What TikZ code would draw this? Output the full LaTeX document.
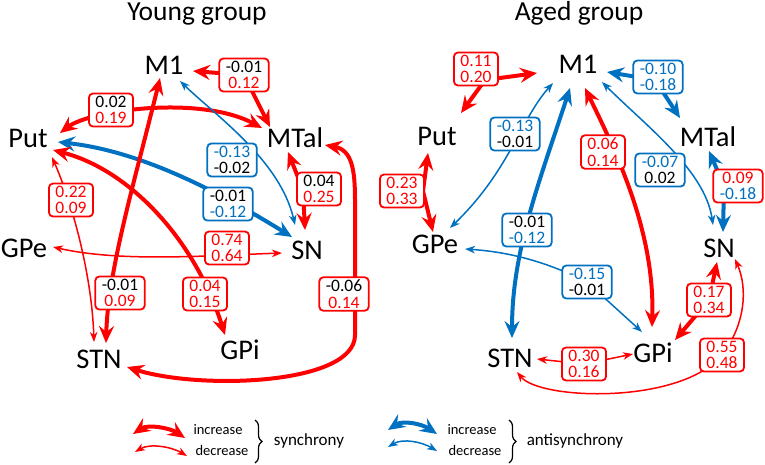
\documentclass[tikz,border=0pt]{standalone}
\usepackage{fontspec}
\setmainfont{Carlito}
\usetikzlibrary{arrows.meta,calc,decorations.pathreplacing}
\definecolor{sred}{RGB}{255,0,0}
\definecolor{sblue}{RGB}{0,112,192}
\newcommand\nK[1]{\textcolor{black}{#1}}
\newcommand\nR[1]{\textcolor{sred}{#1}}
\newcommand\nB[1]{\textcolor{sblue}{#1}}
\pgfdeclarelayer{bg}
\pgfsetlayers{bg,main}
\tikzset{
  region/.style={anchor=base, inner sep=0pt, font=\fontsize{28.5}{30}\selectfont},
  ttl/.style={anchor=base, inner sep=0pt, font=\fontsize{27.5}{30}\selectfont},
  lbox/.style={draw, line width=1.8pt, rounded corners=4pt, fill=white, align=center,
    inner xsep=6.5pt, inner ysep=2.5pt, font=\fontsize{17.5}{16.5}\selectfont},
  rbox/.style={lbox, draw=sred},
  bbox/.style={lbox, draw=sblue},
  thickR/.style={draw=sred, line width=4pt, {Stealth[length=17pt,width=15pt,inset=6pt]}-{Stealth[length=17pt,width=15pt,inset=6pt]}},
  thinR/.style={draw=sred, line width=1.5pt, {Stealth[length=10pt,width=7.5pt,inset=3pt]}-{Stealth[length=10pt,width=7.5pt,inset=3pt]}},
  thickB/.style={thickR, draw=sblue},
  thinB/.style={thinR, draw=sblue},
  legtxt/.style={anchor=base, inner sep=0pt, font=\fontsize{14.5}{16}\selectfont},
  legbig/.style={anchor=base, inner sep=0pt, font=\fontsize{17}{18}\selectfont},
  bracestyle/.style={draw, line width=1.2pt, decorate, decoration={brace, amplitude=7pt}},
}
\begin{document}
\begin{tikzpicture}[x=1pt,y=-1pt]
\useasboundingbox (0,0) rectangle (765,464);
% titles
\node[ttl] (tY) at (197,20) {Young group};
\node[ttl] (tA) at (579,20) {Aged group};
% Young regions
\node[region] (M1) at (164,74) {M1};
\node[region] (Put) at (28,147) {Put};
\node[region] (MTal) at (295,147) {MTal};
\node[region] (GPe) at (24,257) {GPe};
\node[region] (SN) at (307,259) {SN};
\node[region] (STN) at (99,368) {STN};
\node[region] (GPi) at (240,359) {GPi};
% Aged regions
\node[region] (aM1) at (578,73) {M1};
\node[region] (aPut) at (437,145) {Put};
\node[region] (aMTal) at (708,146) {MTal};
\node[region] (aGPe) at (435,253) {GPe};
\node[region] (aSN) at (719,257) {SN};
\node[region] (aSTN) at (510,367) {STN};
\node[region] (aGPi) at (653,362) {GPi};
% Young boxes
\node[rbox] (yb1) at (244,75) {\nK{-0.01}\\\nR{0.12}};
\node[rbox] (yb2) at (111,110) {\nK{0.02}\\\nR{0.19}};
\node[bbox] (yb3) at (232,160) {\nB{-0.13}\\\nK{-0.02}};
\node[bbox] (yb4) at (228,204) {\nK{-0.01}\\\nB{-0.12}};
\node[rbox] (yb5) at (319,189) {\nK{0.04}\\\nR{0.25}};
\node[rbox] (yb6) at (71,200) {\nR{0.22}\\\nR{0.09}};
\node[rbox] (yb7) at (120,293) {\nK{-0.01}\\\nR{0.09}};
\node[rbox] (yb8) at (205,294) {\nR{0.04}\\\nR{0.15}};
\node[rbox] (yb9) at (227,248) {\nR{0.74}\\\nR{0.64}};
\node[rbox] (yb10) at (344,294) {\nK{-0.06}\\\nR{0.14}};
% Aged boxes
\node[rbox] (ab1) at (476,69) {\nR{0.11}\\\nR{0.20}};
\node[bbox] (ab2) at (658,77) {\nB{-0.10}\\\nB{-0.18}};
\node[bbox] (ab3) at (515,134) {\nB{-0.13}\\\nK{-0.01}};
\node[bbox] (ab4) at (527,230) {\nK{-0.01}\\\nB{-0.12}};
\node[rbox] (ab5) at (603,152) {\nR{0.06}\\\nR{0.14}};
\node[bbox] (ab6) at (660,170) {\nB{-0.07}\\\nK{0.02}};
\node[rbox] (ab7) at (738,186) {\nR{0.09}\\\nB{-0.18}};
\node[rbox] (ab8) at (402,191) {\nR{0.23}\\\nR{0.33}};
\node[bbox] (ab9) at (587,282) {\nB{-0.15}\\\nK{-0.01}};
\node[rbox] (ab10) at (709,300) {\nR{0.17}\\\nR{0.34}};
\node[rbox] (ab11) at (584,364) {\nR{0.30}\\\nR{0.16}};
\node[rbox] (ab12) at (722,355) {\nR{0.55}\\\nR{0.48}};
% legend
\node[legtxt] (inc1) at (218,434) {increase};
\node[legtxt] (dec1) at (222,455) {decrease};
\node[legbig] (syn) at (309,445) {synchrony};
\node[legtxt] (inc2) at (472,434) {increase};
\node[legtxt] (dec2) at (475,455) {decrease};
\node[legbig] (anti) at (575,445) {antisynchrony};
\coordinate (l1a) at (133,434); \coordinate (l1b) at (185,438);
\coordinate (l2a) at (135,452); \coordinate (l2b) at (187,456);
\coordinate (l3a) at (388,430); \coordinate (l3b) at (437,434);
\coordinate (l4a) at (388,447); \coordinate (l4b) at (437,451);
\coordinate (br1a) at (255,420); \coordinate (br1b) at (255,463);
\coordinate (br2a) at (509,420); \coordinate (br2b) at (509,463);
\draw[thickR] (l1a) .. controls +(15,-10) and +(-15,-10) .. (l1b);
\draw[thinR] (l2a) .. controls +(15,-9) and +(-15,-9) .. (l2b);
\draw[thickB] (l3a) .. controls +(15,-10) and +(-15,-10) .. (l3b);
\draw[thinB] (l4a) .. controls +(15,-9) and +(-15,-9) .. (l4b);
\draw[bracestyle] (br1a) -- (br1b);
\draw[bracestyle] (br2a) -- (br2b);
\begin{pgfonlayer}{bg}
% Young connectors
\draw[thickR] ($(M1.base)+(29,-3)$) -- (yb1.center) -- ($(MTal.base)+(-25,-20)$);
\draw[thickR] ($(Put.base)+(32,-14)$) .. controls +(30,-23) and +(-62,-33) .. ($(MTal.base)+(-33,-19)$);
\draw[thickB] ($(Put.base)+(30,-5)$) .. controls +(72,8) and +(-92,-57) .. ($(SN.base)+(-15,-22)$);
\draw[thinB] ($(M1.base)+(16,7)$) .. controls +(35,34) and +(-15,-65) .. ($(SN.base)+(-12,-34)$);
\draw[thickR] ($(MTal.base)+(-7,5)$) -- ($(yb5.center)+(-16,1)$) -- ($(SN.base)+(-2,-29)$);
\draw[thinR] ($(Put.base)+(24,10)$) .. controls +(23,53) and +(-2,-62) .. ($(STN.base)+(-5,-26)$);
\draw[thickR] ($(M1.base)+(-4,4)$) .. controls +(-25,102) and +(2,-73) .. ($(STN.base)+(7,-25)$);
\draw[thickR] ($(Put.base)+(25,3)$) .. controls +(77,20) and +(-30,-95) .. ($(GPi.base)+(-15,-24)$);
\draw[thinR] ($(GPe.base)+(29,-10)$) .. controls +(67,15) and +(-82,3) .. ($(SN.base)+(-25,-6)$);
\draw[thickR] ($(MTal.base)+(30,-2)$) .. controls +(27,5) and +(0,-30) .. ($(yb10.center)+(11,-94)$)
   -- ($(yb10.center)+(11,41)$) .. controls +(0,50) and +(73,23) .. ($(STN.base)+(28,-1)$);
% Aged connectors
\draw[thickR] ($(aM1.base)+(-41,0)$) -- ($(ab1.center)+(9,11)$) -- ($(aPut.base)+(24,-32)$);
\draw[thickB] ($(aM1.base)+(29,-1)$) -- ($(ab2.center)+(-3,3)$) -- ($(aMTal.base)+(-28,-28)$);
\draw[thinB] ($(aM1.base)+(-25,10)$) .. controls +(-33,37) and +(60,-58) .. ($(aGPe.base)+(15,-25)$);
\draw[thickB] ($(aM1.base)+(-8,15)$) .. controls +(-30,92) and +(0,-88) .. ($(aSTN.base)+(2,-29)$);
\draw[thickR] ($(aM1.base)+(7,15)$) .. controls +(30,62) and +(3,-97) .. ($(aGPi.base)+(-1,-35)$);
\draw[thinB] ($(aM1.base)+(24,9)$) .. controls +(43,43) and +(-8,-55) .. ($(aSN.base)+(-6,-32)$);
\draw[thickB] ($(aMTal.base)+(1,5)$) -- ($(ab7.center)+(-14,0)$) -- ($(aSN.base)+(4,-25)$);
\draw[thickR] ($(aPut.base)+(-9,8)$) -- ($(ab8.center)+(21,0)$) -- ($(aGPe.base)+(-2,-21)$);
\draw[thinB] ($(aGPe.base)+(30,-4)$) .. controls +(45,3) and +(-40,-20) .. (ab9.center) -- ($(aGPi.base)+(-11,-30)$);
\draw[thickR] ($(aSN.base)+(-2,5)$) -- (ab10.center) -- ($(aGPi.base)+(22,-22)$);
\draw[thinR] ($(aSTN.base)+(27,-8)$) -- (ab11.center) -- ($(aGPi.base)+(-20,-8)$);
\draw[thinR] ($(aSTN.base)+(7,5)$) .. controls +(23,28) and +(-42,50) .. (ab12.center)
   .. controls +(23,-30) and +(13,30) .. ($(aSN.base)+(16,2)$);
\end{pgfonlayer}
\end{tikzpicture}
\end{document}
